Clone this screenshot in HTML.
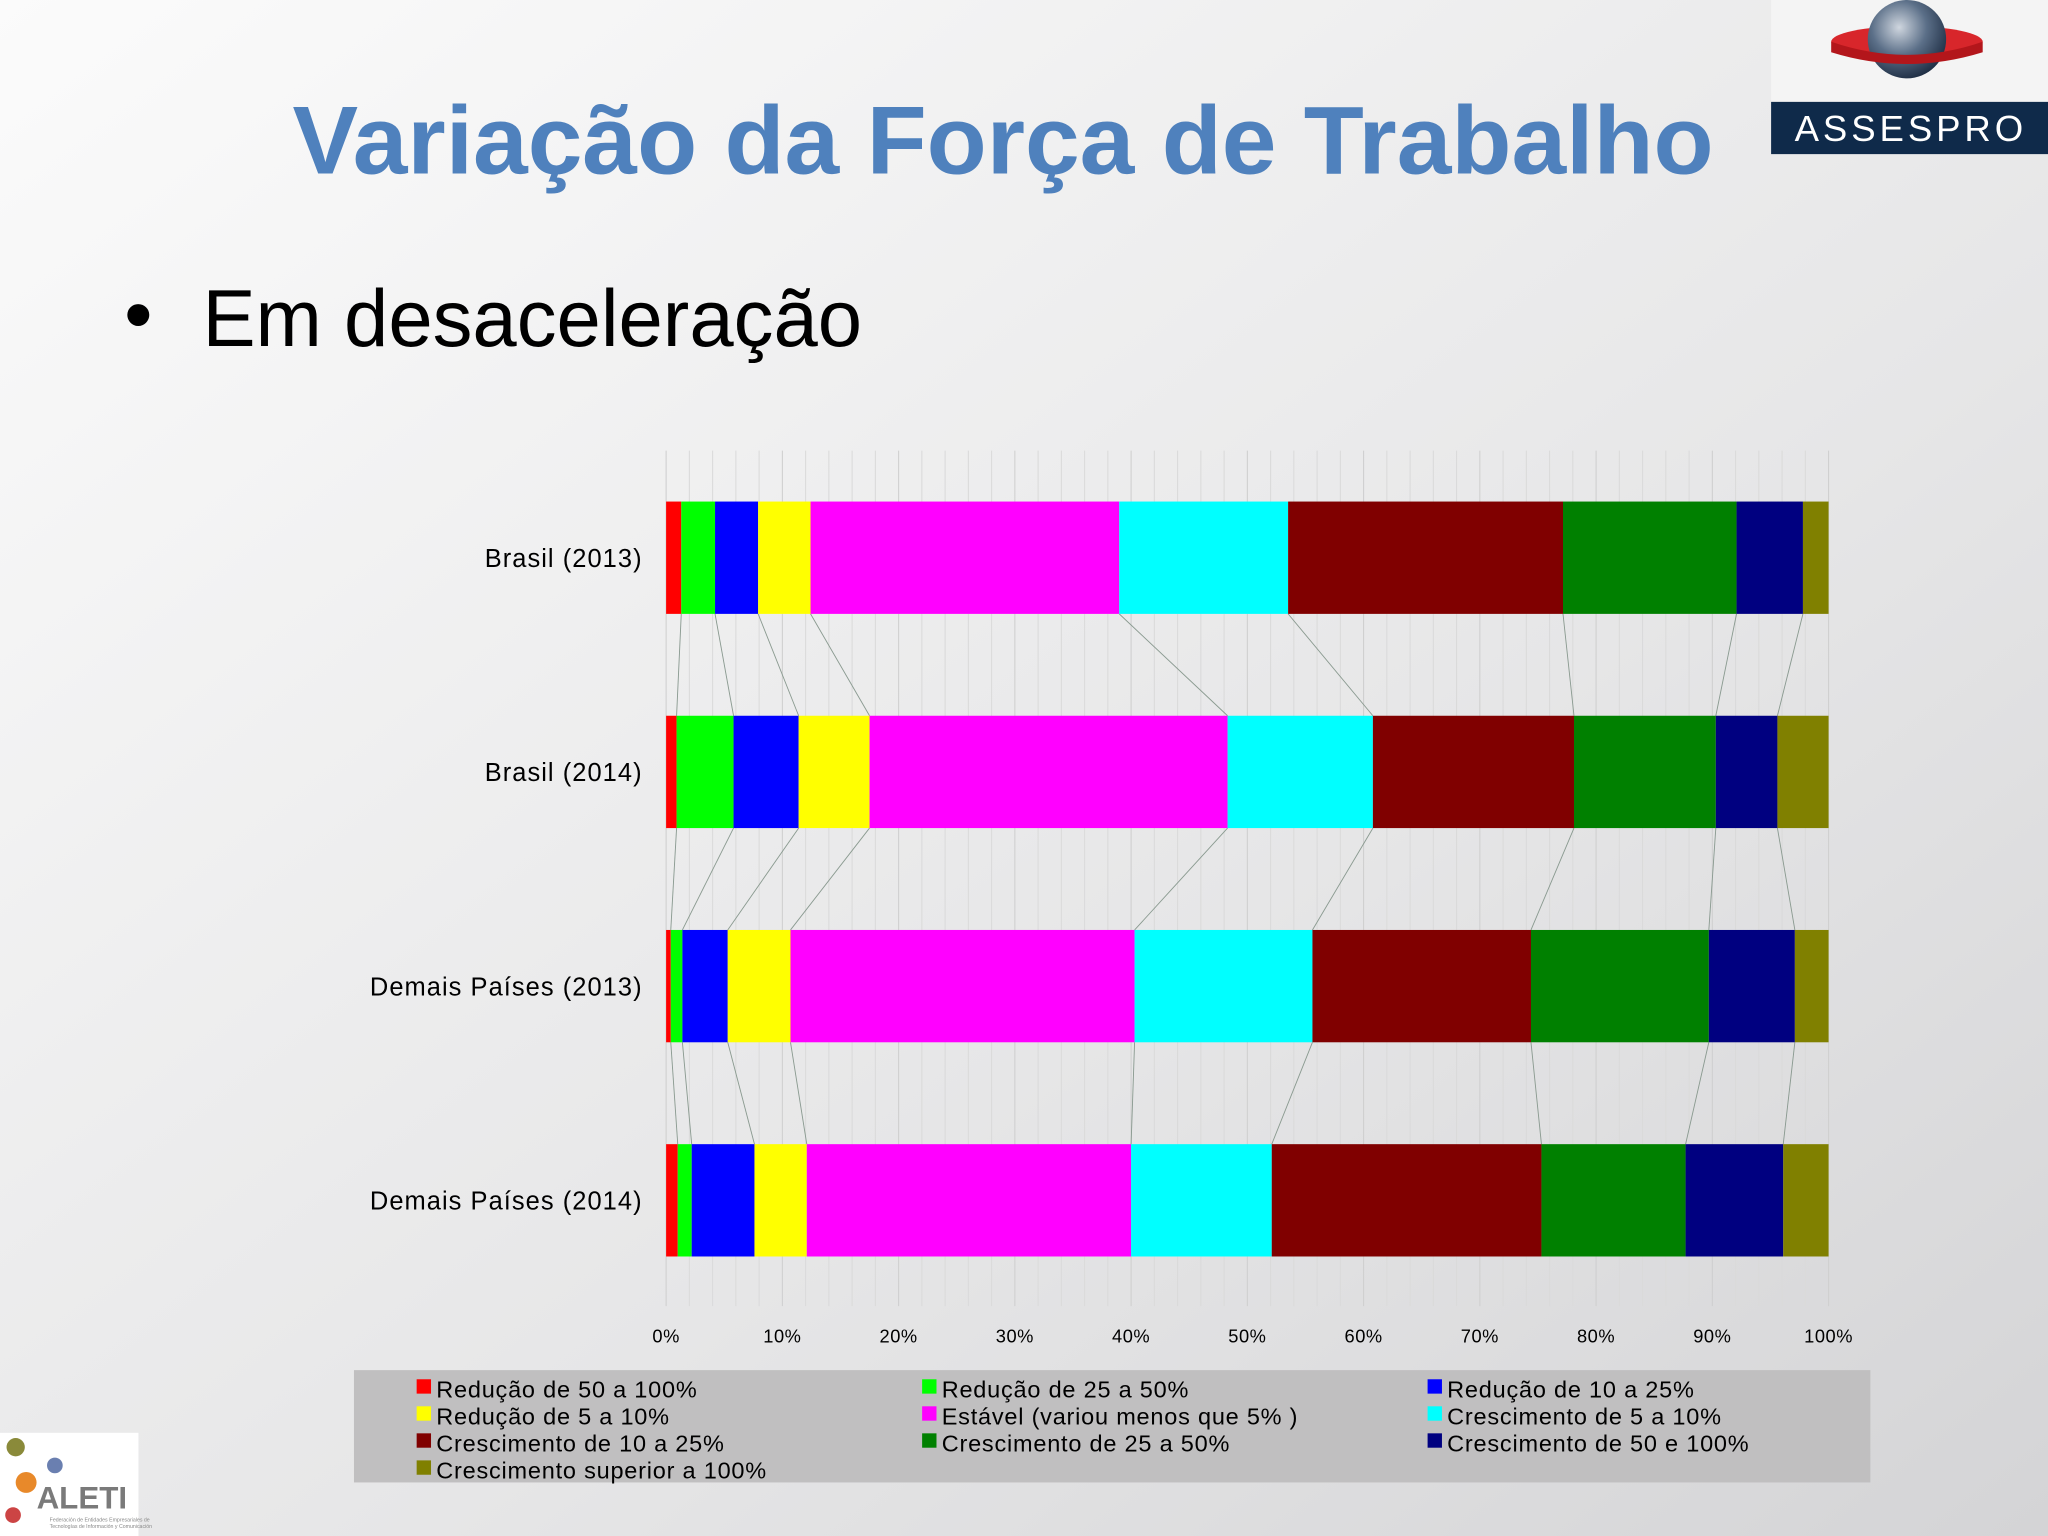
<!DOCTYPE html>
<html><head><meta charset="utf-8"><style>
html,body{margin:0;padding:0;width:2048px;height:1536px;overflow:hidden}
svg{display:block}
text{font-family:"Liberation Sans",sans-serif}
</style></head><body>
<svg id="s" width="2048" height="1536" viewBox="0 0 1568 1176" xmlns="http://www.w3.org/2000/svg">
<defs>
<linearGradient id="bg" x1="0" y1="0" x2="1" y2="1">
<stop offset="0" stop-color="#fbfbfb"/><stop offset="0.6" stop-color="#e6e6e7"/><stop offset="1" stop-color="#d4d4d6"/>
</linearGradient>
<radialGradient id="globe" cx="0.4" cy="0.35" r="0.7"><stop offset="0" stop-color="#cfd6df"/><stop offset="0.5" stop-color="#5b6f88"/><stop offset="1" stop-color="#1b2a40"/></radialGradient>
</defs>
<rect width="1568" height="1176" fill="url(#bg)"/>
<text x="768" y="133" text-anchor="middle" font-size="74" font-weight="bold" fill="#4f81bd" textLength="1088" lengthAdjust="spacingAndGlyphs">Variação da Força de Trabalho</text>
<text x="95" y="262" font-size="62" fill="#000">•</text>
<text x="155" y="265" font-size="62" fill="#000" textLength="505" lengthAdjust="spacingAndGlyphs">Em desaceleração</text>
<g>
<rect x="1356" y="0" width="212" height="118" fill="#f4f4f4"/>
<ellipse cx="1460" cy="32" rx="58" ry="12" fill="#d8262b"/>
<circle cx="1460" cy="30" r="30" fill="url(#globe)"/>
<path d="M1402 32 Q1460 52 1518 32 L1518 40 Q1460 58 1402 40Z" fill="#b3161b"/>
<rect x="1356" y="78" width="212" height="40" fill="#0f2a4a"/>
<text x="1463" y="108" text-anchor="middle" font-family="Liberation Serif,serif" font-size="28" fill="#fff" letter-spacing="3">ASSESPRO</text>
</g>
<g>
<rect x="0" y="1097" width="106" height="79" fill="#fff"/>
<circle cx="12" cy="1108" r="7" fill="#8a8a3a"/><circle cx="42" cy="1122" r="6" fill="#6a7fb0"/><circle cx="20" cy="1135" r="8" fill="#e8892a"/><circle cx="10" cy="1160" r="6" fill="#c44"/>
<text x="28" y="1155" font-size="24" font-weight="bold" fill="#7a7a7a">ALETI</text>
<text x="38" y="1165" font-size="4" fill="#888">Federación de Entidades Empresariales de</text>
<text x="38" y="1170" font-size="4" fill="#888">Tecnologías de Información y Comunicación</text>
</g>
<g id="chart"></g>
<g>
<rect x="271" y="1049" width="1161" height="86" fill="#c0bfc0"/>
<g id="leg"></g>
</g>
</svg>
<script>
const categories = ["Brasil (2013)","Brasil (2014)","Demais Países (2013)","Demais Países (2014)"];
const seriesNames = ["Redução de 50 a 100%","Redução de 25 a 50%","Redução de 10 a 25%","Redução de 5 a 10%","Estável (variou menos que 5% )","Crescimento de 5 a 10%","Crescimento de 10 a 25%","Crescimento de 25 a 50%","Crescimento de 50 e 100%","Crescimento superior a 100%"];
const colors = ["#ff0000","#00ff00","#0000ff","#ffff00","#ff00ff","#00ffff","#800000","#008000","#000080","#808000"];
const brasil2013 = [1.3,2.9,3.7,4.5,26.5,14.5,23.6,14.9,5.7,2.2];
const brasil2014 = [0.9,4.9,5.6,6.1,30.8,12.5,17.3,12.2,5.3,4.4];
const demais2013 = [0.4,1.0,3.9,5.4,29.6,15.3,18.8,15.3,7.4,2.9];
const demais2014 = [1.0,1.2,5.4,4.5,27.9,12.1,23.2,12.4,8.4,3.9];
const rows = [brasil2013,brasil2014,demais2013,demais2014];
const tickLabels = ["0%","10%","20%","30%","40%","50%","60%","70%","80%","90%","100%"];

const NS="http://www.w3.org/2000/svg";
const X0=510,X1=1400,TOP=345,BOT=1000;
const x=v=>X0+(X1-X0)*v/100;
const yBand=i=>384+i*164;
const BH=86;
const g=document.getElementById('chart');
function mk(t,a,p){const e=document.createElementNS(NS,t);for(const k in a)e.setAttribute(k,a[k]);(p||g).appendChild(e);return e;}
for(let v=0;v<=100;v+=2){
 const l=mk('line',{x1:x(v),x2:x(v),y1:TOP,y2:BOT,stroke:v%10===0?'#cfcfcf':'#dadada','stroke-width':0.8});
 
 
}
const cums=rows.map(r=>{let c=0;return r.map(v=>{const s=c;c+=v;return [s,c];});});
const scaleTot=rows.map(r=>r.reduce((a,b)=>a+b,0));
for(let i=0;i<rows.length-1;i++){
 for(let j=0;j<seriesNames.length-1;j++){
  const a=cums[i][j][1]*100/scaleTot[i], b=cums[i+1][j][1]*100/scaleTot[i+1];
  const l=mk('line',{x1:x(a),y1:yBand(i)+BH,x2:x(b),y2:yBand(i+1),stroke:'#8a9a90','stroke-width':0.7});
  
  
 }
}
rows.forEach((r,i)=>{
 r.forEach((v,j)=>{
  const s=cums[i][j][0]*100/scaleTot[i], e=cums[i][j][1]*100/scaleTot[i];
  const b=mk('rect',{x:x(s),y:yBand(i),width:x(e)-x(s),height:BH,fill:colors[j]});
  
  
 });
 const t=mk('text',{x:492,y:yBand(i)+BH/2+7,'text-anchor':'end','font-size':19.5,'letter-spacing':0.8,fill:'#000'});
 t.textContent=categories[i];
 
 
});
tickLabels.forEach((lab,k)=>{
 const t=mk('text',{x:x(k*10),y:1028,'text-anchor':'middle','font-size':14,'letter-spacing':0.4,fill:'#000'});
 t.textContent=lab;
 
 
});
const leg=document.getElementById('leg');
seriesNames.forEach((n,j)=>{
 const col=j%3,row=Math.floor(j/3);
 const lx=[319,706,1093][col], ly=1063+row*20.7;
 const gg=mk('g',{},leg);
 
 
 mk('rect',{x:lx,y:ly-7,width:11,height:11,fill:colors[j]},gg);
 const t=mk('text',{x:lx+15,y:ly+7,'font-size':18,'letter-spacing':0.6,fill:'#000'},gg);
 t.textContent=n;
});
</script>
</body></html>
